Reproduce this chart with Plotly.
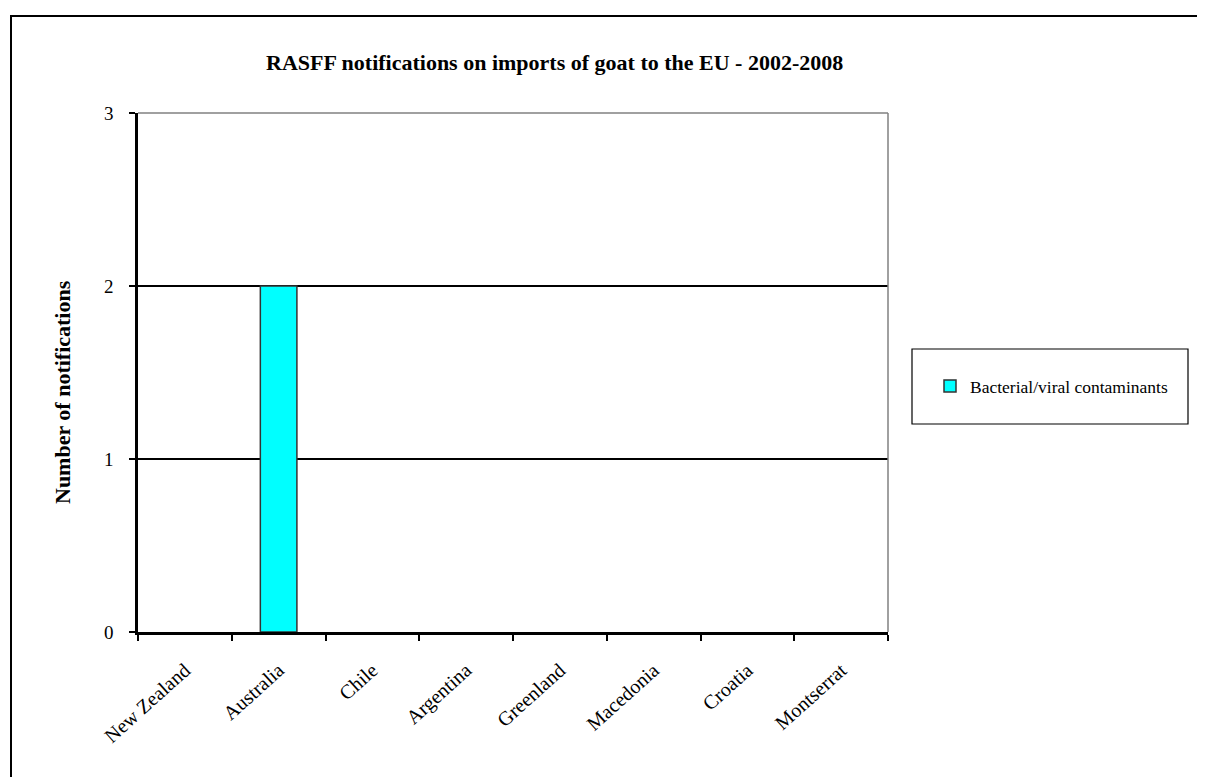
import plotly.graph_objects as go

categories = ["New Zealand", "Australia", "Chile", "Argentina", "Greenland", "Macedonia", "Croatia", "Montserrat"]
bacterial_viral = [0, 2, 0, 0, 0, 0, 0, 0]
series_name = "Bacterial/viral contaminants"
title_text = "RASFF notifications on imports of goat to the EU - 2002-2008"
y_title = "Number of notifications"

OFF = 8  # page body margin
W, H = 1205 - OFF, 777 - OFF
L, R, T, B = 138 - OFF, 888 - OFF, 113 - OFF, 632 - OFF
pw, ph = R - L, B - T

def px(x):
    return (x - OFF - L) / pw

def py(y):
    return (B - (y - OFF)) / ph

font = "Liberation Serif, Times New Roman, serif"

# zero-height bars are not drawn (no outline stub on the axis)
bar_values = [v if v != 0 else None for v in bacterial_viral]

fig = go.Figure()
fig.add_trace(go.Bar(
    x=categories, y=bar_values, name=series_name,
    marker=dict(color="#00FFFF", line=dict(color="#333333", width=1.5)),
    width=0.39, showlegend=True,
))

shapes = [
    dict(type="rect", xref="paper", yref="paper", x0=px(11), x1=px(1230), y0=py(800), y1=py(16),
         line=dict(color="black", width=2), fillcolor="rgba(0,0,0,0)", layer="below"),
    dict(type="rect", xref="paper", yref="paper", x0=px(912), x1=px(1188), y0=py(424), y1=py(349),
         line=dict(color="black", width=1.2), fillcolor="rgba(0,0,0,0)"),
    dict(type="line", xref="paper", yref="paper", x0=0, x1=1, y0=1, y1=1, line=dict(color="#808080", width=1.5)),
    dict(type="line", xref="paper", yref="paper", x0=1, x1=1, y0=0, y1=1, line=dict(color="#808080", width=1.5)),
]

fig.update_layout(
    width=W, height=H,
    margin=dict(l=L, r=W - R, t=T, b=H - B, pad=0),
    paper_bgcolor="white", plot_bgcolor="white",
    font=dict(family=font, color="black"),
    shapes=shapes,
    showlegend=True,
    legend=dict(x=px(930), y=py(386), xanchor="left", yanchor="middle",
                bgcolor="rgba(0,0,0,0)", font=dict(size=17.5, family=font),
                itemwidth=30, tracegroupgap=0),
    annotations=[
        dict(text="<b>" + title_text + "</b>", xref="paper", yref="paper",
             x=px(554), y=py(62), showarrow=False, font=dict(size=22, family=font),
             xanchor="center", yanchor="middle"),
        dict(text="<b>" + y_title + "</b>", xref="paper", yref="paper",
             x=px(62), y=py(392), showarrow=False, font=dict(size=22, family=font),
             textangle=-90, xanchor="center", yanchor="middle"),
    ],
)

fig.update_xaxes(
    type="category", categoryorder="array", categoryarray=categories,
    tickangle=-42, tickson="boundaries", ticks="outside", ticklen=6,
    tickwidth=1.5, tickcolor="black", showline=True, linecolor="black", linewidth=2.5,
    tickfont=dict(size=20, family=font), showgrid=False, zeroline=False, ticklabelstandoff=16,
    range=[-0.5, len(categories) - 0.5],
)
fig.update_yaxes(
    range=[0, 3], dtick=1, ticks="outside", ticklen=6, tickwidth=1.5, tickcolor="black",
    showline=True, linecolor="black", linewidth=2.5, showgrid=True, gridcolor="black", gridwidth=1.5,
    zeroline=False, tickfont=dict(size=19, family=font), ticklabelstandoff=12,
)

fig.write_html("out.html")
